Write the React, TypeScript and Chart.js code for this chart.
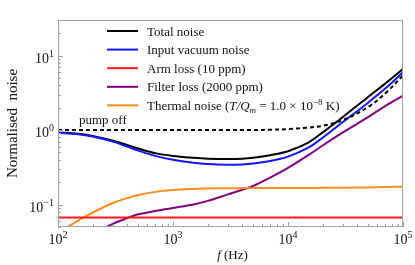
import React, { useEffect, useRef } from "react";
import { Chart, registerables } from "chart.js";

Chart.register(...registerables);

const freq = [100, 150, 200, 300, 400, 500, 700, 1000, 1500, 2000, 3000, 4000, 5000, 7000, 10000, 15000, 20000, 30000, 50000, 70000, 100000];
const totalNoise = [0.93, 0.89, 0.835, 0.72, 0.63, 0.565, 0.49, 0.45, 0.425, 0.413, 0.408, 0.412, 0.425, 0.46, 0.52, 0.68, 0.93, 1.5, 2.8, 4.2, 6.6];
const inputVacuum = [0.92, 0.88, 0.82, 0.7, 0.6, 0.53, 0.45, 0.4, 0.365, 0.35, 0.342, 0.345, 0.355, 0.385, 0.44, 0.58, 0.79, 1.28, 2.35, 3.6, 5.95];
const armLoss = [0.067, 0.067, 0.067, 0.067, 0.067, 0.067, 0.067, 0.067, 0.067, 0.067, 0.067, 0.067, 0.067, 0.067, 0.067, 0.067, 0.067, 0.067, 0.067, 0.067, 0.067];
const filterLoss = [0.022, 0.03, 0.04, 0.055, 0.066, 0.074, 0.082, 0.09, 0.1, 0.112, 0.137, 0.158, 0.178, 0.23, 0.31, 0.46, 0.62, 0.93, 1.5, 2.1, 2.9];
const thermalNoise = [0.042, 0.061, 0.078, 0.105, 0.122, 0.134, 0.148, 0.157, 0.162, 0.164, 0.166, 0.166, 0.167, 0.167, 0.167, 0.167, 0.168, 0.168, 0.17, 0.172, 0.174];
const pumpOff = [1, 1, 1, 1, 1, 1, 1, 1, 1, 1, 1, 1, 1, 1.01, 1.03, 1.08, 1.14, 1.36, 2.05, 3.1, 5.4];

const seriesLabels = ["Total noise", "Input vacuum noise", "Arm loss (10 ppm)", "Filter loss (2000 ppm)", "Thermal noise"];
const seriesColors = ["#000000", "#1414ff", "#ff1a1a", "#800080", "#ff8c1a"];
const xDecades = [2, 3, 4, 5];
const yDecades = [-1, 0, 1];

const SERIF = "'Liberation Serif', 'Times New Roman', serif";

function pts(ys: number[]) {
  return freq.map((f, i) => ({ x: f, y: ys[i] }));
}

function drawPow(ctx: CanvasRenderingContext2D, exp: string, x: number, y: number, align: "center" | "right") {
  ctx.font = `14px ${SERIF}`;
  const wb = ctx.measureText("10").width;
  ctx.font = `10px ${SERIF}`;
  const we = ctx.measureText(exp).width;
  const total = wb + we;
  const start = align === "center" ? x - total / 2 : x - total;
  ctx.textAlign = "left";
  ctx.textBaseline = "alphabetic";
  ctx.font = `14px ${SERIF}`;
  ctx.fillText("10", start, y);
  ctx.font = `10px ${SERIF}`;
  ctx.fillText(exp, start + wb, y - 6);
}

function drawRich(ctx: CanvasRenderingContext2D, parts: { t: string; f: string; dy: number }[], x: number, y: number) {
  let cx = x;
  ctx.textAlign = "left";
  ctx.textBaseline = "alphabetic";
  for (const p of parts) {
    ctx.font = p.f;
    ctx.fillText(p.t, cx, y + p.dy);
    cx += ctx.measureText(p.t).width;
  }
}

const decorPlugin = {
  id: "decor",
  afterDraw(chart: any) {
    const ctx: CanvasRenderingContext2D = chart.ctx;
    const a = chart.chartArea;
    const xs = chart.scales.x;
    const ys = chart.scales.y;
    ctx.save();
    ctx.strokeStyle = "#a0a0a0";
    ctx.lineWidth = 1;
    ctx.strokeRect(Math.round(a.left) + 0.5, Math.round(a.top) + 0.5, Math.round(a.right - a.left) - 1, Math.round(a.bottom - a.top) - 1);
    ctx.beginPath();
    for (const d of xDecades) {
      for (let m = 1; m <= 9; m++) {
        const v = m * Math.pow(10, d);
        if (v < xs.min || v > xs.max) continue;
        const px = Math.round(xs.getPixelForValue(v)) + 0.5;
        const len = m === 1 ? 5 : 3;
        ctx.moveTo(px, a.bottom);
        ctx.lineTo(px, a.bottom - len);
      }
    }
    for (const d of [-2, -1, 0, 1]) {
      for (let m = 1; m <= 9; m++) {
        const v = m * Math.pow(10, d);
        if (v < ys.min || v > ys.max) continue;
        const py = Math.round(ys.getPixelForValue(v)) + 0.5;
        const len = m === 1 ? 5 : 3;
        ctx.moveTo(a.left, py);
        ctx.lineTo(a.left + len, py);
      }
    }
    ctx.stroke();
    ctx.fillStyle = "#111";
    for (const d of xDecades) {
      const px = xs.getPixelForValue(Math.pow(10, d));
      drawPow(ctx, String(d), px, a.bottom + 17, "center");
    }
    for (const d of yDecades) {
      const py = ys.getPixelForValue(Math.pow(10, d));
      drawPow(ctx, d < 0 ? "\u2212" + String(-d) : String(d), a.left - 4, py + 7, "right");
    }
    ctx.save();
    ctx.translate(13, (a.top + a.bottom) / 2);
    ctx.rotate(-Math.PI / 2);
    ctx.font = `15px ${SERIF}`;
    ctx.textAlign = "center";
    ctx.textBaseline = "middle";
    ctx.fillText("Normalised  noise", 0, 0);
    ctx.restore();
    const titleParts = [
      { t: "f", f: `italic 13px ${SERIF}`, dy: 0 },
      { t: " (Hz)", f: `13px ${SERIF}`, dy: 0 },
    ];
    ctx.font = `italic 13px ${SERIF}`;
    let tw = ctx.measureText("f").width;
    ctx.font = `13px ${SERIF}`;
    tw += ctx.measureText(" (Hz)").width;
    drawRich(ctx, titleParts, (a.left + a.right) / 2 + 2 - tw / 2, 259);
    ctx.font = `13px ${SERIF}`;
    ctx.textAlign = "left";
    ctx.fillText("pump off", 79, ys.getPixelForValue(1) - 6);
    const lx0 = 107, lx1 = 138, tx = 147;
    for (let i = 0; i < seriesLabels.length; i++) {
      const ly = 31 + i * 18.6;
      ctx.strokeStyle = seriesColors[i];
      ctx.lineWidth = 2;
      ctx.beginPath();
      ctx.moveTo(lx0, ly);
      ctx.lineTo(lx1, ly);
      ctx.stroke();
      ctx.fillStyle = "#111";
      if (i < 4) {
        ctx.font = `13px ${SERIF}`;
        ctx.textAlign = "left";
        ctx.textBaseline = "alphabetic";
        ctx.fillText(seriesLabels[i], tx, ly + 4.5);
      } else {
        drawRich(ctx, [
          { t: seriesLabels[i] + " (", f: `13px ${SERIF}`, dy: 0 },
          { t: "T/Q", f: `italic 13px ${SERIF}`, dy: 0 },
          { t: "m", f: `italic 9px ${SERIF}`, dy: 3 },
          { t: " = 1.0 \u00d7 10", f: `13px ${SERIF}`, dy: 0 },
          { t: "\u22128", f: `9px ${SERIF}`, dy: -5 },
          { t: " K)", f: `13px ${SERIF}`, dy: 0 },
        ], tx, ly + 4.5);
      }
    }
    ctx.restore();
  },
};

export default function App() {
  const ref = useRef<HTMLCanvasElement | null>(null);
  useEffect(() => {
    if (!ref.current) return;
    const common = { pointRadius: 0, borderWidth: 2, fill: false, tension: 0.35 };
    const chart = new Chart(ref.current, {
      type: "line",
      data: {
        datasets: [
          { ...common, label: "pump off", data: pts(pumpOff), borderColor: "#000000", borderDash: [4, 3], order: 0 },
          { ...common, label: seriesLabels[2], data: pts(armLoss), borderColor: seriesColors[2], order: 1 },
          { ...common, label: seriesLabels[4], data: pts(thermalNoise), borderColor: seriesColors[4], order: 2 },
          { ...common, label: seriesLabels[3], data: pts(filterLoss), borderColor: seriesColors[3], order: 3 },
          { ...common, label: seriesLabels[1], data: pts(inputVacuum), borderColor: seriesColors[1], order: 4 },
          { ...common, label: seriesLabels[0], data: pts(totalNoise), borderColor: seriesColors[0], order: 5 },
        ],
      },
      options: {
        animation: false,
        responsive: false,
        layout: { padding: { top: 20, right: 12, left: 0, bottom: 0 } },
        plugins: { legend: { display: false }, tooltip: { enabled: false }, title: { display: false } },
        scales: {
          x: {
            type: "logarithmic",
            min: 100,
            max: 100000,
            grid: { display: false },
            border: { display: false },
            ticks: { display: false },
            afterFit: (s: any) => { s.height = 38; },
          },
          y: {
            type: "logarithmic",
            min: 0.05,
            max: 30,
            grid: { display: false },
            border: { display: false },
            ticks: { display: false },
            afterFit: (s: any) => { s.width = 58; },
          },
        },
      },
      plugins: [decorPlugin],
    });
    return () => chart.destroy();
  }, []);
  return (
    <div style={{ position: "absolute", left: 0, top: 0, width: 415, height: 265, background: "#fff" }}>
      <canvas ref={ref} width={415} height={265} style={{ display: "block" }} />
    </div>
  );
}
